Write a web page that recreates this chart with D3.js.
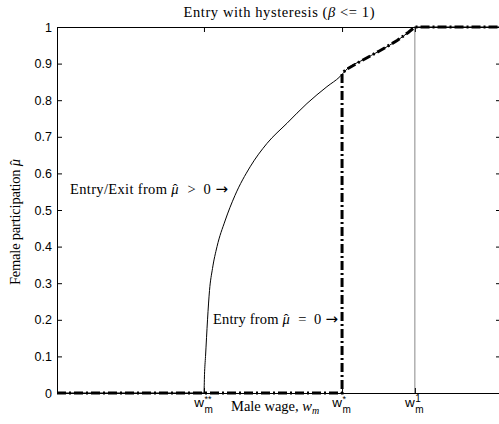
<!DOCTYPE html>
<html><head><meta charset="utf-8">
<script src="https://cdn.jsdelivr.net/npm/d3@7"></script>
<style>body{margin:0;background:#fff}svg{display:block}</style>
</head><body>
<script>
// ---- data (x in normalized wage units 0..1) ----
const entryExitWage = [0, 0.331, 0.3322, 0.3345, 0.339, 0.3435, 0.3502, 0.3604, 0.3784, 0.4009, 0.435, 0.473, 0.518, 0.563, 0.608, 0.637, 0.653, 0.689, 0.727, 0.766, 0.791, 0.806, 1.0];
const entryExitPart = [0, 0, 0.05, 0.1, 0.2, 0.28, 0.34, 0.4, 0.47, 0.54, 0.618, 0.682, 0.737, 0.791, 0.837, 0.864, 0.885, 0.91, 0.935, 0.963, 0.985, 1.0, 1.0];
const entryZeroWage = [0, 0.642, 0.642, 0.653, 0.689, 0.727, 0.766, 0.791, 0.806, 1.0];
const entryZeroPart = [0, 0, 0.874, 0.885, 0.91, 0.935, 0.963, 0.985, 1.0, 1.0];
const yTickValues = [0, 0.1, 0.2, 0.3, 0.4, 0.5, 0.6, 0.7, 0.8, 0.9, 1];
const yTickLabels = ["0", "0.1", "0.2", "0.3", "0.4", "0.5", "0.6", "0.7", "0.8", "0.9", "1"];
const xTickValues = [0.331, 0.642, 0.806];
const xTickSup = ["**", "*", "1"];

const W = 499, H = 424;
const m = {left: 57, right: 501, top: 27, bottom: 393};
const svg = d3.select("body").append("svg").attr("width", W).attr("height", H);
const x = d3.scaleLinear().domain([0, 1]).range([m.left, m.right]);
const y = d3.scaleLinear().domain([0, 1]).range([m.bottom, m.top]);

const sans = "'Liberation Sans', Arial, sans-serif";
const serif = "'Liberation Serif', 'Times New Roman', serif";

// w1 reference line
svg.append("line").attr("x1", x(xTickValues[2])).attr("x2", x(xTickValues[2]))
  .attr("y1", y(0)).attr("y2", y(1)).attr("stroke", "#888").attr("stroke-width", 1);

// axes
const gl = svg.append("g").attr("transform", `translate(${m.left},0)`)
  .call(d3.axisLeft(y).tickValues(yTickValues).tickFormat((d, i) => yTickLabels[i])
    .tickSizeInner(-5).tickSizeOuter(0).tickPadding(5));
gl.selectAll("text").attr("font-family", sans).attr("font-size", 12.5).attr("fill", "#000");
const gr = svg.append("g").attr("transform", `translate(${m.right},0)`)
  .call(d3.axisRight(y).tickValues(yTickValues).tickSizeInner(-5).tickSizeOuter(0));
const gb = svg.append("g").attr("transform", `translate(0,${m.bottom})`)
  .call(d3.axisBottom(x).tickValues(xTickValues).tickSizeInner(-5).tickSizeOuter(0));
const gt = svg.append("g").attr("transform", `translate(0,${m.top})`)
  .call(d3.axisTop(x).tickValues(xTickValues).tickSizeInner(-5).tickSizeOuter(0));
[gr, gb, gt].forEach(g => g.selectAll("text").remove());
[gl, gr, gb, gt].forEach(g => { g.selectAll("path,line").attr("stroke", "#000").attr("stroke-width", 1); });

// x tick labels  w_m^{sup} (one text element each, sup and sub stacked)
xTickValues.forEach((v, i) => {
  const px = x(v);
  const sup = xTickSup[i];
  const supSize = sup === "1" ? 10 : 9;
  const supW = sup === "1" ? 0.556 * supSize : 0.389 * supSize * sup.length;
  const tx = svg.append("text").attr("x", px - 0.722 * 13.5).attr("y", 407)
    .attr("font-family", sans).attr("font-size", 13.5);
  tx.append("tspan").text("w");
  tx.append("tspan").attr("font-size", supSize).attr("dx", 0.5).attr("dy", -5).text(sup);
  tx.append("tspan").attr("font-size", 10).attr("dx", -supW).attr("dy", 11).text("m");
});

// lines
const solid = entryExitWage.map((w, i) => [w, entryExitPart[i]]);
const dashdot = entryZeroWage.map((w, i) => [w, entryZeroPart[i]]);
svg.append("path").attr("d", d3.line().x(d => x(d[0])).y(d => y(d[1])).curve(d3.curveMonotoneX)(solid))
  .attr("fill", "none").attr("stroke", "#000").attr("stroke-width", 1);
svg.append("path").attr("d", d3.line().x(d => x(d[0])).y(d => y(d[1]))(dashdot))
  .attr("fill", "none").attr("stroke", "#000")
  .attr("stroke-width", 3).attr("stroke-dasharray", "9,3,2,3");

// helper: italic mu with hat
function muHat(sel, size) {
  sel.append("tspan").attr("font-style", "italic").text("μ");
  sel.append("tspan").attr("dx", -0.42 * size).text("ˆ");
}
function arrow(sel) {
  sel.append("tspan").attr("font-family", "'DejaVu Sans', sans-serif").attr("font-size", 15).attr("dx", 1).text("→");
}

// title
const t = svg.append("text").attr("x", (m.left + m.right) / 2).attr("y", 17).attr("text-anchor", "middle")
  .attr("font-family", serif).attr("font-size", 14.5)
  .attr("textLength", 191).attr("lengthAdjust", "spacing");
t.append("tspan").text("Entry with hysteresis (");
t.append("tspan").attr("font-style", "italic").text("β");
t.append("tspan").text(" <= 1)");

// y label
const yl = svg.append("text").attr("transform", `translate(20,222) rotate(-90)`)
  .attr("text-anchor", "middle").attr("font-family", serif).attr("font-size", 14.5)
  .attr("textLength", 126).attr("lengthAdjust", "spacing");
yl.append("tspan").text("Female participation ");
muHat(yl, 14.5);

// x label
const xl = svg.append("text").attr("x", 231).attr("y", 411).attr("font-family", serif).attr("font-size", 14.5);
xl.append("tspan").text("Male wage, ");
xl.append("tspan").attr("font-style", "italic").text("w");
xl.append("tspan").attr("font-style", "italic").attr("font-size", 10).attr("dy", 3).text("m");

// annotations
const a1 = svg.append("text").attr("x", 70).attr("y", 194).attr("font-family", serif).attr("font-size", 14.5)
  .attr("textLength", 158).attr("lengthAdjust", "spacing");
a1.append("tspan").text("Entry/Exit from ");
muHat(a1, 14.5);
a1.append("tspan").attr("dx", 2).text("\u2002>\u20020\u2009");
arrow(a1);
const a2 = svg.append("text").attr("x", 213).attr("y", 324).attr("font-family", serif).attr("font-size", 14.5)
  .attr("textLength", 125).attr("lengthAdjust", "spacing");
a2.append("tspan").text("Entry from ");
muHat(a2, 14.5);
a2.append("tspan").attr("dx", 2).text("\u2002=\u20020\u2009");
arrow(a2);
</script>
</body></html>
